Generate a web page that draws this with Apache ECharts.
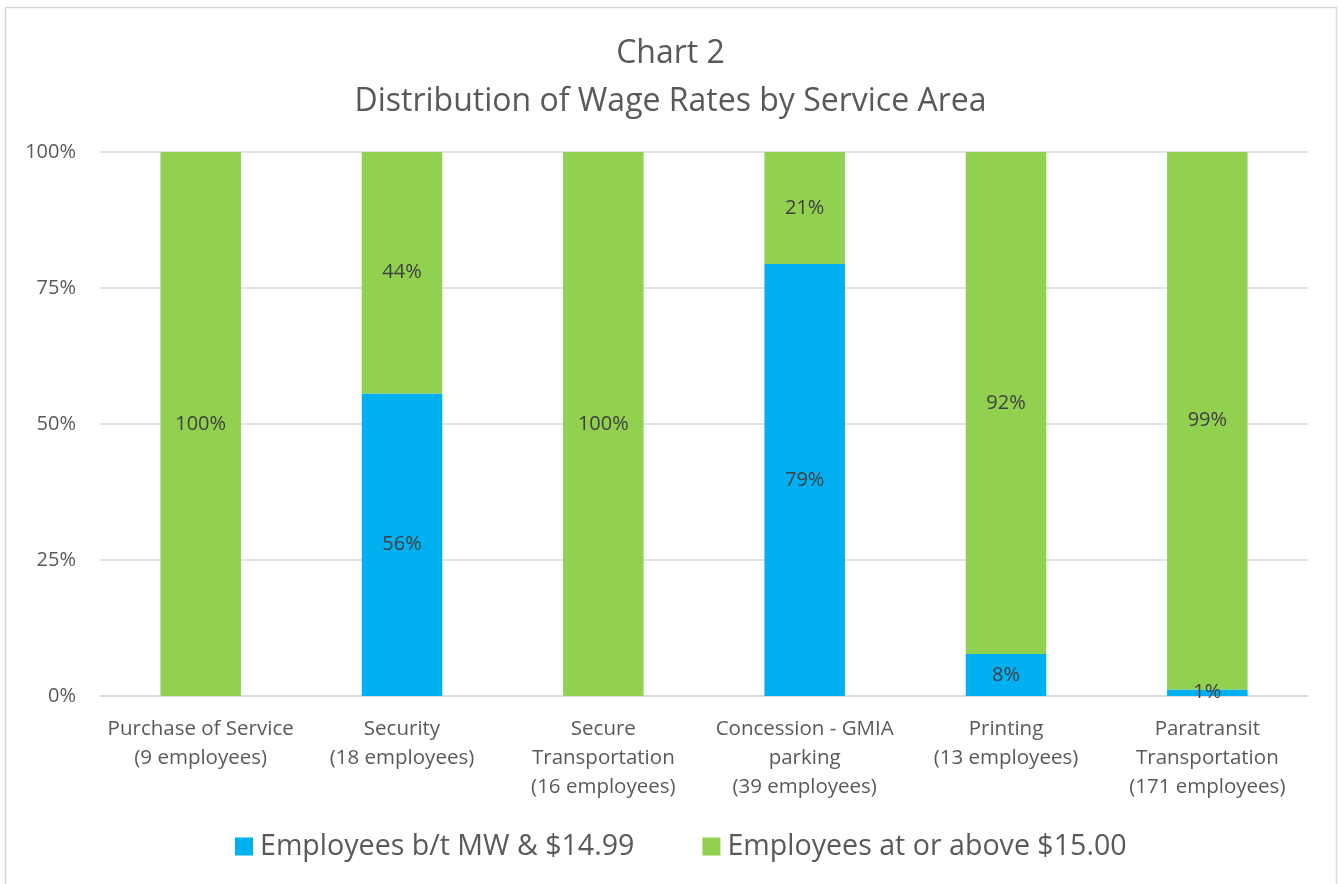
<!DOCTYPE html>
<html>
<head>
<meta charset="utf-8">
<script src="https://cdn.jsdelivr.net/npm/echarts@6/dist/echarts.min.js"></script>
<style>
html,body{margin:0;padding:0;background:#fff;}
#chart{width:1341px;height:884px;}
</style>
</head>
<body>
<div id="chart"></div>
<script>
const categories = [
  "Purchase of Service\n(9 employees)",
  "Security\n(18 employees)",
  "Secure\nTransportation\n(16 employees)",
  "Concession - GMIA\nparking\n(39 employees)",
  "Printing\n(13 employees)",
  "Paratransit\nTransportation\n(171 employees)"
];
const seriesNames = ["Employees b/t MW & $14.99", "Employees at or above $15.00"];
const belowValues = [0, 55.6, 0, 79.4, 7.7, 1.2];
const aboveValues = [100, 44.4, 100, 20.6, 92.3, 98.8];
const yTicks = [0, 25, 50, 75, 100];

const FONT = "'Open Sans', 'Noto Sans', sans-serif";
const chart = echarts.init(document.getElementById('chart'));
const labelCfg = {
  show: true,
  position: 'inside',
  color: '#404040',
  fontSize: 20,
  fontFamily: FONT,
  formatter: p => p.value > 0 ? Math.round(p.value) + '%' : ''
};
chart.setOption({
  animation: false,
  backgroundColor: '#fff',
  graphic: [{
    type: 'rect',
    shape: {x: 5.5, y: 7.5, width: 1331, height: 900},
    style: {fill: 'none', stroke: '#d9d9d9', lineWidth: 1.5},
    silent: true
  }],
  title: {
    text: "Chart 2\nDistribution of Wage Rates by Service Area",
    left: 'center',
    top: 25,
    textStyle: {
      fontFamily: FONT,
      fontSize: 32,
      fontWeight: 'normal',
      color: '#595959',
      lineHeight: 48
    }
  },
  legend: {
    bottom: 18,
    left: 230,
    itemWidth: 18,
    itemHeight: 18,
    itemGap: 68,
    icon: 'rect',
    textStyle: {fontFamily: FONT, fontSize: 28.6, color: '#595959', padding: [0, 0, 0, 2]},
    data: seriesNames
  },
  grid: {left: 100, right: 33, top: 152, bottom: 188},
  xAxis: {
    type: 'category',
    data: categories,
    axisLine: {lineStyle: {color: '#d9d9d9', width: 1.5}},
    axisTick: {show: false},
    axisLabel: {
      interval: 0,
      fontFamily: FONT,
      fontSize: 20.5,
      color: '#595959',
      lineHeight: 29,
      margin: 19
    }
  },
  yAxis: {
    type: 'value',
    min: yTicks[0],
    max: yTicks[yTicks.length - 1],
    interval: 25,
    axisLine: {show: false},
    axisTick: {show: false},
    splitLine: {lineStyle: {color: '#d9d9d9', width: 1.5}},
    axisLabel: {
      fontFamily: FONT,
      fontSize: 20,
      color: '#595959',
      margin: 24,
      formatter: v => v + '%'
    }
  },
  series: [
    {
      name: seriesNames[0],
      type: 'bar',
      stack: 'total',
      data: belowValues,
      barWidth: '40%',
      itemStyle: {color: '#00B0F0'},
      label: labelCfg
    },
    {
      name: seriesNames[1],
      type: 'bar',
      stack: 'total',
      data: aboveValues,
      barWidth: '40%',
      itemStyle: {color: '#92D050'},
      label: labelCfg
    }
  ]
});
</script>
</body>
</html>
